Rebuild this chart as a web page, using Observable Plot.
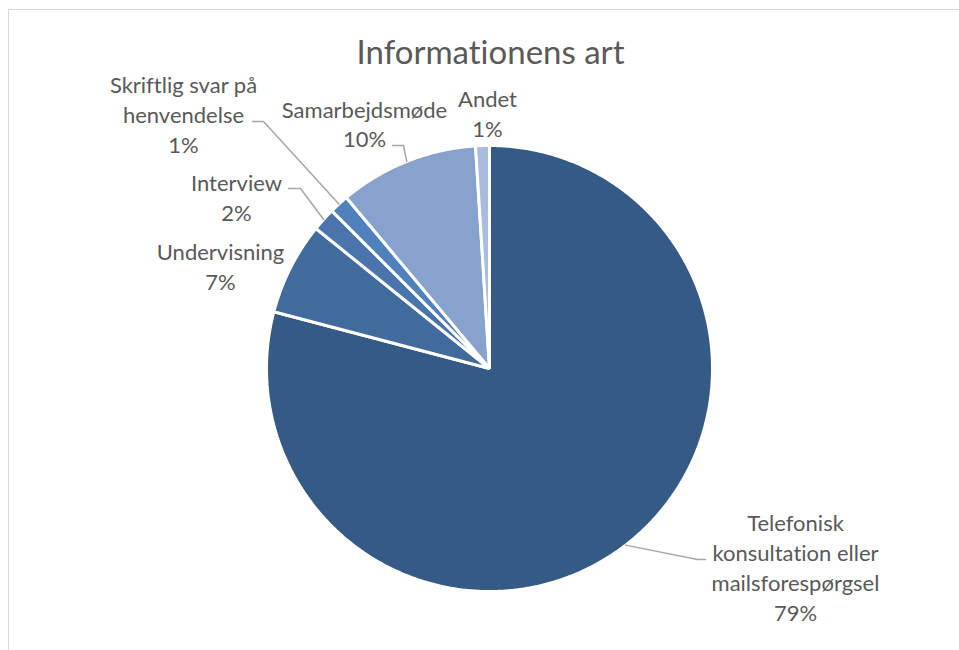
<!DOCTYPE html>
<html><head><meta charset="utf-8">
<script src="https://cdn.jsdelivr.net/npm/d3@7"></script>
<script src="https://cdn.jsdelivr.net/npm/@observablehq/plot@0.6"></script>
<style>
body{margin:0;background:#fff;}
#wrap{position:relative;width:959px;height:650px;overflow:hidden;}
#wrap svg{position:absolute;left:0;top:0;}
#wrap svg text{font-variant-ligatures:none;font-feature-settings:"liga" 0;}
#border{position:absolute;left:8px;top:9px;width:1000px;height:700px;border:1.5px solid #d9d9d9;pointer-events:none;}
</style></head><body><div id="wrap"></div>
<script>
// ---- data ----
const title = "Informationens art";
const categories = ["Telefonisk konsultation eller mailsforespørgsel","Undervisning","Interview","Skriftlig svar på henvendelse","Samarbejdsmøde","Andet"];
const values = [79.1, 6.7, 1.7, 1.4, 10.1, 1.0];
const labelLines = [["Telefonisk","konsultation eller","mailsforespørgsel"],["Undervisning"],["Interview"],["Skriftlig svar på","henvendelse"],["Samarbejdsmøde"],["Andet"]];
const pctLabels = ["79%","7%","2%","1%","10%","1%"];
const colors = ["#355a86","#416a9d","#4a75ac","#4f81bd","#87a2cc","#a9bcdf"];

// ---- layout (offsets from pie centre, px) ----
const R = 223;
const labelAt = [[306,523-368],[-269,-116],[-253,-185],[-306,-283],[-125,-258],[-2,-269]];
const lineGap = [30,30,30,30,29,30];
const leaderPts = [[[208,191],[216,191]], null, [[-189,-180],[-201,-180]], [[-226,-247],[-237,-247]], [[-86,-223],[-97,-223]], null];

const arcs = d3.pie().sort(null).startAngle(0).endAngle(2*Math.PI)(values);
const marks = [];
arcs.forEach((a,i)=>{
  const pts = [{x:0,y:0}];
  const n = Math.max(2, Math.ceil((a.endAngle-a.startAngle)/(Math.PI/360)));
  for(let k=0;k<=n;k++){
    const t = a.startAngle + (a.endAngle-a.startAngle)*k/n;
    pts.push({x:R*Math.sin(t), y:-R*Math.cos(t)});
  }
  marks.push(Plot.line(pts,{x:"x",y:"y",curve:"linear-closed",fill:colors[i],stroke:"white",strokeWidth:3,strokeLinejoin:"miter"}));
});
// leader lines
arcs.forEach((a,i)=>{
  if(!leaderPts[i]) return;
  const m = (a.startAngle+a.endAngle)/2;
  const pts = [{x:R*Math.sin(m), y:-R*Math.cos(m)}, ...leaderPts[i].map(([x,y])=>({x,y}))];
  marks.push(Plot.line(pts,{x:"x",y:"y",stroke:"#a6a6a6",strokeWidth:1.5}));
});
// labels
const rows = [];
categories.forEach((c,i)=>{
  const lines = [...labelLines[i], pctLabels[i]];
  lines.forEach((t,j)=>rows.push({x:labelAt[i][0], y:labelAt[i][1]+j*lineGap[i], t}));
});
marks.push(Plot.text(rows,{x:"x",y:"y",text:"t",fill:"#595959",fontSize:22,fontFamily:"Lato",lineAnchor:"middle"}));
marks.push(Plot.text([title],{x:()=>1,y:()=>-315,text:d=>d,fill:"#595959",fontSize:33,fontWeight:400,fontFamily:"Lato",lineAnchor:"middle"}));

const chart = Plot.plot({
  width:959,height:650,margin:0,
  x:{domain:[-489,470],range:[0,959],axis:null},
  y:{domain:[-368,282],range:[0,650],axis:null},
  style:{background:"transparent",fontFamily:"Lato"},
  marks
});
const wrap = document.getElementById("wrap");
wrap.appendChild(chart);
const b = document.createElement("div"); b.id="border"; wrap.appendChild(b);
</script></body></html>
